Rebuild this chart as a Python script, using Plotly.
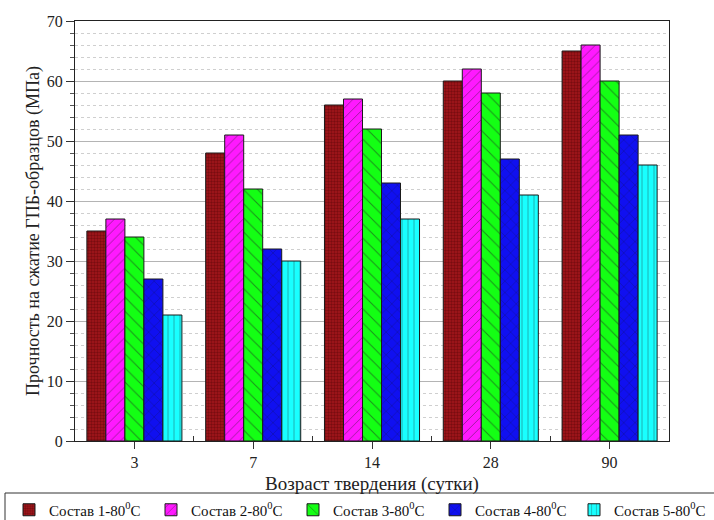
import plotly.graph_objects as go

# Curing age (days) and compressive strength of the five compositions, MPa
ages = ["3", "7", "14", "28", "90"]
series_names = [
    "Состав 1-80<sup>0</sup>C",
    "Состав 2-80<sup>0</sup>C",
    "Состав 3-80<sup>0</sup>C",
    "Состав 4-80<sup>0</sup>C",
    "Состав 5-80<sup>0</sup>C",
]
comp1 = [35, 48, 56, 60, 65]
comp2 = [37, 51, 57, 62, 66]
comp3 = [34, 42, 52, 58, 60]
comp4 = [27, 32, 43, 47, 51]
comp5 = [21, 30, 37, 41, 46]
y_ticks = [0, 10, 20, 30, 40, 50, 60, 70]

values = [comp1, comp2, comp3, comp4, comp5]
fills = ["#A5161B", "#FF19FF", "#14FF14", "#1010F0", "#19FFFF"]
patterns = [
    dict(shape=".", size=3, solidity=0.5, fgcolor="#6E0A0E", fgopacity=0.8),
    dict(shape="/", size=7, solidity=0.12, fgcolor="#202020"),
    dict(shape="\\", size=10, solidity=0.1, fgcolor="#202020"),
    dict(shape="x", size=8, solidity=0.12, fgcolor="#101040"),
    dict(shape="|", size=6, solidity=0.18, fgcolor="#207070"),
]
# the last entry goes into a second legend block so the row fits the page width
legend_ids = ["legend", "legend", "legend", "legend", "legend2"]

positions = list(range(len(ages)))

fig = go.Figure()
for name, vals, color, pat, lg in zip(series_names, values, fills, patterns, legend_ids):
    fig.add_trace(go.Bar(
        x=positions,
        y=vals,
        name=name,
        legend=lg,
        marker=dict(
            color=color,
            line=dict(color="#1a1a1a", width=1),
            pattern=dict(bgcolor=color, **pat),
        ),
    ))

serif = "Liberation Serif, Times New Roman, serif"

# pixel geometry of the plot area: left 75, right 669, top 21, bottom 441
PL, PW, PB, PH = 75, 594, 441, 420


def px_x(p):
    return (p - PL) / PW


def px_y(p):
    return (PB - p) / PH


legend_common = dict(
    orientation="h",
    xanchor="left",
    yanchor="middle",
    y=px_y(510),
    borderwidth=0,
    bgcolor="rgba(0,0,0,0)",
    font=dict(family=serif, size=15, color="#111111"),
    entrywidth=97,
    entrywidthmode="pixels",
    tracegroupgap=0,
)

fig.update_layout(
    width=714,
    height=520,
    barmode="group",
    bargap=0.2,
    bargroupgap=0,
    plot_bgcolor="white",
    paper_bgcolor="white",
    font=dict(family=serif, size=15, color="#222222"),
    margin=dict(l=PL, r=714 - PL - PW, t=PB - PH, b=520 - PB, autoexpand=False),
    showlegend=True,
    legend=dict(x=px_x(9), **legend_common),
    legend2=dict(x=px_x(574), **legend_common),
    shapes=[
        dict(
            type="rect",
            xref="paper",
            yref="paper",
            x0=px_x(5),
            x1=px_x(716),
            y0=px_y(493),
            y1=px_y(522),
            line=dict(color="#333333", width=1),
            fillcolor="rgba(0,0,0,0)",
            layer="below",
        )
    ],
)

fig.update_xaxes(
    range=[-0.5, len(ages) - 0.5],
    tickmode="array",
    tickvals=positions,
    ticktext=ages,
    ticks="outside",
    ticklen=7,
    tickcolor="#333333",
    showline=True,
    linecolor="#222222",
    linewidth=1,
    mirror=True,
    showgrid=False,
    zeroline=False,
    tickfont=dict(size=16),
    title=dict(text="Возраст твердения (сутки)", font=dict(size=19), standoff=6),
    minor=dict(
        tickmode="array",
        tickvals=[p + 0.5 for p in positions[:-1]],
        ticks="inside",
        ticklen=5,
        tickcolor="#333333",
        showgrid=False,
    ),
)

fig.update_yaxes(
    range=[0, 70],
    tickmode="array",
    tickvals=y_ticks,
    ticks="outside",
    ticklen=8,
    tickcolor="#333333",
    showline=True,
    linecolor="#222222",
    linewidth=1,
    mirror=True,
    showgrid=True,
    gridcolor="#b4b4b4",
    gridwidth=1,
    zeroline=False,
    tickfont=dict(size=16),
    title=dict(text="Прочность на сжатие ГПБ-образцов (МПа)", font=dict(size=18), standoff=2),
    minor=dict(
        dtick=2,
        tick0=0,
        ticks="outside",
        ticklen=4,
        tickcolor="#555555",
        showgrid=True,
        gridcolor="#cfcfcf",
        griddash="dot",
        gridwidth=1,
    ),
)

fig.write_html("out.html")
